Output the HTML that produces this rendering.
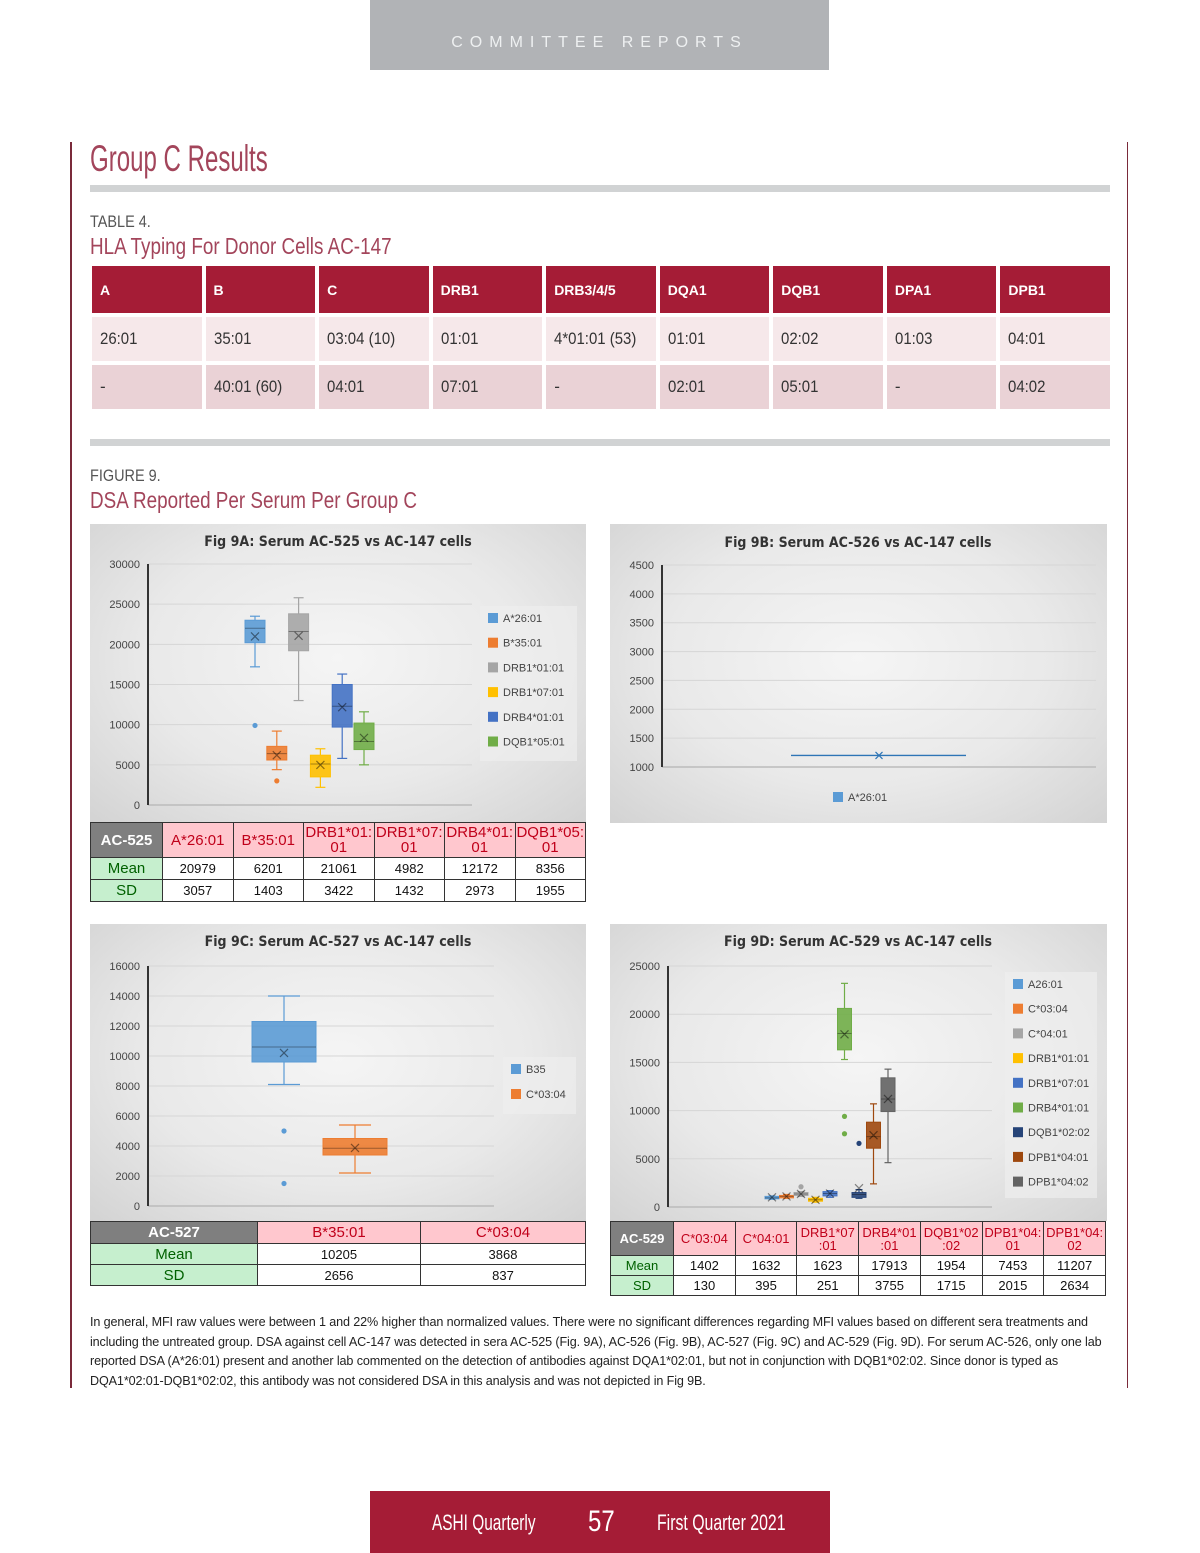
<!DOCTYPE html>
<html><head><meta charset="utf-8">
<style>
body{margin:0;background:#fff;}
#page{position:relative;width:1200px;height:1553px;overflow:hidden;font-family:"Liberation Sans",sans-serif;}
.abs{position:absolute;}
.cond{display:inline-block;transform-origin:left center;white-space:nowrap;}
.panel{position:absolute;background:radial-gradient(ellipse at 50% 45%,#f5f5f5 0%,#e9e9e9 55%,#d3d3d3 100%);}
table.ht{position:absolute;border-collapse:separate;border-spacing:4px;table-layout:fixed;}
table.ht td{overflow:hidden;white-space:nowrap;}
table.st{position:absolute;border-collapse:collapse;table-layout:fixed;font-family:"Liberation Sans",sans-serif;}
table.st td{border:1px solid #333;text-align:center;padding:0;line-height:1;}
.sh{background:#ffc7ce;color:#c0001a;font-size:15px;}
.sg{background:#7f7f7f;color:#fff;font-weight:bold;font-size:15px;}
.sm{background:#c6efce;color:#006100;font-size:15px;}
.sv{background:#fff;color:#111;font-size:13px;}
.hd td{background:#a51c36;padding-left:8px;}
.r1 td{background:#f6e8ea;padding-left:8px;}
.r2 td{background:#ead2d6;padding-left:8px;}
</style></head><body>
<div id="page">
<div class="abs" style="left:370px;top:0;width:459px;height:70px;background:#b1b3b6;color:#eef0f1;font-size:16px;letter-spacing:7px;text-align:center;line-height:86px;">COMMITTEE REPORTS</div>
<div class="abs" style="left:70px;top:142px;width:2px;height:1246px;background:#7a2a3a;"></div>
<div class="abs" style="left:1127px;top:142px;width:1px;height:1246px;background:#7a2a3a;"></div>
<div class="abs" style="left:90px;top:138px;font-size:37px;color:#a3455b;"><span class="cond" style="transform:scaleX(0.65);">Group C Results</span></div>
<div class="abs" style="left:90px;top:185px;width:1020px;height:7px;background:#d1d3d4;"></div>
<div class="abs" style="left:90px;top:212px;font-size:17px;color:#555;"><span class="cond" style="transform:scaleX(0.85);">TABLE 4.</span></div>
<div class="abs" style="left:90px;top:233px;font-size:23px;color:#a3455b;"><span class="cond" style="transform:scaleX(0.82);">HLA Typing For Donor Cells AC-147</span></div>
<table class="ht" style="left:88px;top:262px;width:1026px;font-size:17px;">
<tr class="hd" style="height:47px;color:#fff;font-weight:bold;font-size:14px;">
<td>A</td><td>B</td><td>C</td><td>DRB1</td><td>DRB3/4/5</td><td>DQA1</td><td>DQB1</td><td>DPA1</td><td>DPB1</td></tr>
<tr class="r1" style="height:44px;color:#333;">
<td><span class="cond" style="transform:scaleX(0.88)">26:01</span></td><td><span class="cond" style="transform:scaleX(0.88)">35:01</span></td><td><span class="cond" style="transform:scaleX(0.88)">03:04 (10)</span></td><td><span class="cond" style="transform:scaleX(0.88)">01:01</span></td><td><span class="cond" style="transform:scaleX(0.88)">4*01:01 (53)</span></td><td><span class="cond" style="transform:scaleX(0.88)">01:01</span></td><td><span class="cond" style="transform:scaleX(0.88)">02:02</span></td><td><span class="cond" style="transform:scaleX(0.88)">01:03</span></td><td><span class="cond" style="transform:scaleX(0.88)">04:01</span></td></tr>
<tr class="r2" style="height:44px;color:#333;">
<td>-</td><td><span class="cond" style="transform:scaleX(0.88)">40:01 (60)</span></td><td><span class="cond" style="transform:scaleX(0.88)">04:01</span></td><td><span class="cond" style="transform:scaleX(0.88)">07:01</span></td><td>-</td><td><span class="cond" style="transform:scaleX(0.88)">02:01</span></td><td><span class="cond" style="transform:scaleX(0.88)">05:01</span></td><td>-</td><td><span class="cond" style="transform:scaleX(0.88)">04:02</span></td></tr>
</table>
<div class="abs" style="left:90px;top:439px;width:1020px;height:7px;background:#d1d3d4;"></div>
<div class="abs" style="left:90px;top:466px;font-size:17px;color:#555;"><span class="cond" style="transform:scaleX(0.85);">FIGURE 9.</span></div>
<div class="abs" style="left:90px;top:487px;font-size:23px;color:#a3455b;"><span class="cond" style="transform:scaleX(0.82);">DSA Reported Per Serum Per Group C</span></div>

<div class="panel" style="left:90px;top:524px;width:496px;height:298px;"></div>
<div class="panel" style="left:610px;top:524px;width:497px;height:299px;"></div>
<div class="panel" style="left:90px;top:924px;width:496px;height:297px;"></div>
<div class="panel" style="left:610px;top:924px;width:497px;height:297px;"></div>

<table class="st" style="left:90px;top:822px;width:496px;">
<colgroup><col style="width:72px"><col><col><col><col><col><col></colgroup>
<tr style="height:35px"><td class="sg">AC-525</td><td class="sh">A*26:01</td><td class="sh">B*35:01</td><td class="sh">DRB1*01:<br>01</td><td class="sh">DRB1*07:<br>01</td><td class="sh">DRB4*01:<br>01</td><td class="sh">DQB1*05:<br>01</td></tr>
<tr style="height:22px"><td class="sm">Mean</td><td class="sv">20979</td><td class="sv">6201</td><td class="sv">21061</td><td class="sv">4982</td><td class="sv">12172</td><td class="sv">8356</td></tr>
<tr style="height:22px"><td class="sm">SD</td><td class="sv">3057</td><td class="sv">1403</td><td class="sv">3422</td><td class="sv">1432</td><td class="sv">2973</td><td class="sv">1955</td></tr>
</table>
<table class="st" style="left:90px;top:1221px;width:496px;">
<colgroup><col style="width:167px"><col style="width:163px"><col></colgroup>
<tr style="height:22px"><td class="sg">AC-527</td><td class="sh">B*35:01</td><td class="sh">C*03:04</td></tr>
<tr style="height:21px"><td class="sm">Mean</td><td class="sv">10205</td><td class="sv">3868</td></tr>
<tr style="height:21px"><td class="sm">SD</td><td class="sv">2656</td><td class="sv">837</td></tr>
</table>
<table class="st" style="left:610px;top:1221px;width:496px;">
<colgroup><col style="width:63px"><col><col><col><col><col><col><col></colgroup>
<tr style="height:34px"><td class="sg" style="font-size:13px">AC-529</td><td class="sh" style="font-size:13px">C*03:04</td><td class="sh" style="font-size:13px">C*04:01</td><td class="sh" style="font-size:13px">DRB1*07<br>:01</td><td class="sh" style="font-size:13px">DRB4*01<br>:01</td><td class="sh" style="font-size:13px">DQB1*02<br>:02</td><td class="sh" style="font-size:13px">DPB1*04:<br>01</td><td class="sh" style="font-size:13px">DPB1*04:<br>02</td></tr>
<tr style="height:20px"><td class="sm" style="font-size:13px">Mean</td><td class="sv">1402</td><td class="sv">1632</td><td class="sv">1623</td><td class="sv">17913</td><td class="sv">1954</td><td class="sv">7453</td><td class="sv">11207</td></tr>
<tr style="height:20px"><td class="sm" style="font-size:13px">SD</td><td class="sv">130</td><td class="sv">395</td><td class="sv">251</td><td class="sv">3755</td><td class="sv">1715</td><td class="sv">2015</td><td class="sv">2634</td></tr>
</table>

<svg id="charts" class="abs" style="left:0;top:0;" width="1200" height="1553"></svg>

<div class="abs" style="left:90px;top:1313px;width:1020px;font-size:12.6px;line-height:19.5px;color:#222;letter-spacing:-0.12px;">In general, MFI raw values were between 1 and 22% higher than normalized values. There were no significant differences regarding MFI values based on different sera treatments and including the untreated group. DSA against cell AC-147 was detected in sera AC-525 (Fig. 9A), AC-526 (Fig. 9B), AC-527 (Fig. 9C) and AC-529 (Fig. 9D). For serum AC-526, only one lab reported DSA (A*26:01) present and another lab commented on the detection of antibodies against DQA1*02:01, but not in conjunction with DQB1*02:02. Since donor is typed as DQA1*02:01-DQB1*02:02, this antibody was not considered DSA in this analysis and was not depicted in Fig 9B.</div>

<div class="abs" style="left:370px;top:1491px;width:460px;height:62px;background:#a51c36;color:#fff;">
<span class="abs" style="left:62px;top:19px;font-size:22px;"><span class="cond" style="transform:scaleX(0.7)">ASHI Quarterly</span></span>
<span class="abs" style="left:218px;top:14px;font-size:30px;"><span class="cond" style="transform:scaleX(0.8)">57</span></span>
<span class="abs" style="left:287px;top:19px;font-size:22px;"><span class="cond" style="transform:scaleX(0.72)">First Quarter 2021</span></span>
</div>
</div>
<script>
// ---- Fig 9A data ----
const a_cats=["A*26:01","B*35:01","DRB1*01:01","DRB1*07:01","DRB4*01:01","DQB1*05:01"];
const a_q1=[20200,5600,19200,3500,9700,6900];
const a_med=[22000,6400,21600,5100,12300,7900];
const a_q3=[23000,7300,23800,6200,15000,10200];
const a_lo=[17200,4400,13000,2200,5800,5000];
const a_hi=[23500,9200,25800,7000,16300,11600];
const a_mean=[20979,6201,21061,4982,12172,8356];
const a_out=[[9900],[3000],[],[],[],[]];
const a_ticks=[0,5000,10000,15000,20000,25000,30000];
// ---- Fig 9B data ----
const b_cats=["A*26:01"];
const b_mean=[1200];
const b_ticks=[1000,1500,2000,2500,3000,3500,4000,4500];
// ---- Fig 9C data ----
const c_cats=["B35","C*03:04"];
const c_q1=[9600,3400];
const c_med=[10600,3850];
const c_q3=[12300,4500];
const c_lo=[8100,2200];
const c_hi=[14000,5400];
const c_mean=[10205,3868];
const c_out=[[5000,1500],[]];
const c_ticks=[0,2000,4000,6000,8000,10000,12000,14000,16000];
// ---- Fig 9D data ----
const d_cats=["A26:01","C*03:04","C*04:01","DRB1*01:01","DRB1*07:01","DRB4*01:01","DQB1*02:02","DPB1*04:01","DPB1*04:02"];
const d_q1=[850,950,1200,600,1150,16300,1000,6100,9900];
const d_med=[950,1100,1350,750,1400,18000,1300,7300,11200];
const d_q3=[1100,1200,1500,900,1600,20600,1500,8800,13400];
const d_lo=[800,900,1100,500,1000,15300,900,2400,4600];
const d_hi=[1150,1300,1600,1000,1700,23200,1800,10700,14300];
const d_mean=[1000,1100,1350,750,1400,17913,1954,7453,11207];
const d_out=[[],[],[2100],[],[],[9400,7600],[6600],[],[]];
const d_ticks=[0,5000,10000,15000,20000,25000];

const NS="http://www.w3.org/2000/svg";
const svg=document.getElementById('charts');
function mk(tag,attrs,parent){const e=document.createElementNS(NS,tag);for(const k in attrs)e.setAttribute(k,attrs[k]);(parent||svg).appendChild(e);return e;}

function axes(g,cfg){
  cfg.ticks.forEach(t=>{
    const y=cfg.ys(t);
    const gl=mk('line',{x1:cfg.x0,x2:cfg.x1,y1:y,y2:y,stroke:'#d6d6d6','stroke-width':1},g);
    
    
    const tl=mk('text',{x:cfg.x0-8,y:y+4,'text-anchor':'end','font-size':11,fill:'#444','font-family':'Liberation Sans, sans-serif'},g);
    tl.textContent=t;
    
    
  });
  const base=cfg.ys(cfg.ticks[0]);
  const xa=mk('line',{x1:cfg.x0,x2:cfg.x1,y1:base,y2:base,stroke:'#bbb','stroke-width':1.5},g);
  
  
  const ya=mk('line',{x1:cfg.x0,x2:cfg.x0,y1:cfg.ys(cfg.ticks[cfg.ticks.length-1]),y2:base,stroke:'#333','stroke-width':2},g);
  
  
  const tt=mk('text',{x:cfg.tx,y:cfg.ty,'text-anchor':'middle','font-size':14,'font-weight':'bold',fill:'#333','font-family':'DejaVu Sans Condensed, Liberation Sans, sans-serif'},g);
  tt.textContent=cfg.title;
  
  
}
function xMark(g,x,y,s,col){
  const p=mk('path',{d:`M${x-s},${y-s}L${x+s},${y+s}M${x-s},${y+s}L${x+s},${y-s}`,stroke:col,'stroke-width':1.2,fill:'none'},g);
  
  
}
function boxes(g,cats,q1,med,q3,lo,hi,mean,outs,xs,w,ys,colors,prefix){
  cats.forEach((c,i)=>{
    const x=xs(i),col=colors[i];
    const bg=mk('g',{},g);
    
    
    mk('line',{x1:x,x2:x,y1:ys(hi[i]),y2:ys(q3[i]),stroke:col,'stroke-width':1.2},bg);
    mk('line',{x1:x,x2:x,y1:ys(q1[i]),y2:ys(lo[i]),stroke:col,'stroke-width':1.2},bg);
    mk('line',{x1:x-w/4,x2:x+w/4,y1:ys(hi[i]),y2:ys(hi[i]),stroke:col,'stroke-width':1.2},bg);
    mk('line',{x1:x-w/4,x2:x+w/4,y1:ys(lo[i]),y2:ys(lo[i]),stroke:col,'stroke-width':1.2},bg);
    mk('rect',{x:x-w/2,y:ys(q3[i]),width:w,height:Math.max(1,ys(q1[i])-ys(q3[i])),fill:col,stroke:col,'stroke-width':1,'fill-opacity':0.9},bg);
    mk('line',{x1:x-w/2,x2:x+w/2,y1:ys(med[i]),y2:ys(med[i]),stroke:'rgba(0,0,0,0.35)','stroke-width':1},bg);
    xMark(bg,x,ys(mean[i]),Math.min(4,w/3),'rgba(0,0,0,0.45)');
    outs[i].forEach(v=>{
      const o=mk('circle',{cx:x,cy:ys(v),r:2.6,fill:col},bg);
      
      
    });
  });
}
function legend(g,cats,colors,x,y,w,step,boxH){
  const r=mk('rect',{x:x,y:y,width:w,height:boxH,fill:'#eeeeee','fill-opacity':0.7},g);
  
  
  cats.forEach((c,i)=>{
    const yy=y+12+i*step;
    const s=mk('rect',{x:x+8,y:yy-5,width:10,height:10,fill:colors[i]},g);
    
    
    const t=mk('text',{x:x+23,y:yy+4,'font-size':11,fill:'#444','font-family':'Liberation Sans, sans-serif'},g);
    t.textContent=c;
    
    
  });
}
function lin(d0,d1,r0,r1){return v=>r0+(v-d0)/(d1-d0)*(r1-r0);}

// Fig 9A
{const g=mk('g',{});
 const ys=lin(0,30000,805,564);
 axes(g,{ticks:a_ticks,ys:ys,x0:148,x1:472,tx:338,ty:546,title:'Fig 9A: Serum AC-525 vs AC-147 cells'});
 const cols=['#5b9bd5','#ed7d31','#a5a5a5','#ffc000','#4472c4','#70ad47'];
 boxes(g,a_cats,a_q1,a_med,a_q3,a_lo,a_hi,a_mean,a_out,i=>255+i*21.8,20,ys,cols,'fig9a');
 legend(g,a_cats,cols,480,606,97,24.7,155);}
// Fig 9B
{const g=mk('g',{});
 const ys=lin(1000,4500,767,565);
 axes(g,{ticks:b_ticks,ys:ys,x0:662,x1:1096,tx:858,ty:547,title:'Fig 9B: Serum AC-526 vs AC-147 cells'});
 b_cats.forEach((c,i)=>{const y=ys(b_mean[i]);
  const l=mk('line',{x1:791,x2:966,y1:y,y2:y,stroke:'#2e75b6','stroke-width':1.3},g);
  
  
  xMark(g,879,y,3.5,'#2e75b6');});
 const s=mk('rect',{x:833,y:792,width:10,height:10,fill:'#5b9bd5'},g);
 
 const t=mk('text',{x:848,y:801,'font-size':11,fill:'#444','font-family':'Liberation Sans, sans-serif'},g);
 t.textContent=b_cats[0];}
// Fig 9C
{const g=mk('g',{});
 const ys=lin(0,16000,1206,966);
 axes(g,{ticks:c_ticks,ys:ys,x0:148,x1:494,tx:338,ty:946,title:'Fig 9C: Serum AC-527 vs AC-147 cells'});
 const cols=['#5b9bd5','#ed7d31'];
 boxes(g,c_cats,c_q1,c_med,c_q3,c_lo,c_hi,c_mean,c_out,i=>284+i*71,64,ys,cols,'fig9c');
 legend(g,c_cats,cols,503,1057,73,25,57);}
// Fig 9D
{const g=mk('g',{});
 const ys=lin(0,25000,1207,966);
 axes(g,{ticks:d_ticks,ys:ys,x0:668,x1:992,tx:858,ty:946,title:'Fig 9D: Serum AC-529 vs AC-147 cells'});
 const cols=['#5b9bd5','#ed7d31','#a5a5a5','#ffc000','#4472c4','#70ad47','#264478','#9e480e','#636363'];
 boxes(g,d_cats,d_q1,d_med,d_q3,d_lo,d_hi,d_mean,d_out,i=>772+i*14.5,14,ys,cols,'fig9d');
 legend(g,d_cats,cols,1005,972,92,24.7,226);}
</script>
</body></html>
